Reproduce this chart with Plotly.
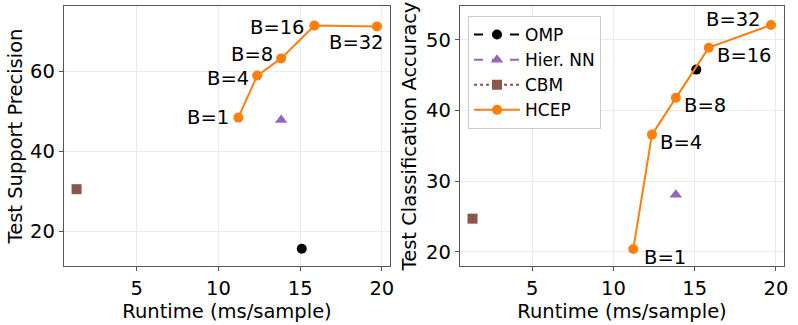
import plotly.graph_objects as go
from plotly.subplots import make_subplots

# runtime (ms/sample) of each HCEP budget
BUDGETS = ['B=1', 'B=4', 'B=8', 'B=16', 'B=32']
hcep_runtime = [11.22, 12.37, 13.84, 15.87, 19.7]
hcep_precision = [48.5, 59.0, 63.3, 71.5, 71.3]
hcep_accuracy = [20.4, 36.6, 41.8, 48.9, 52.1]

omp_runtime = [15.1]
omp_precision = [15.7]
omp_accuracy = [45.8]

hnn_runtime = [13.84]
hnn_precision = [47.9]
hnn_accuracy = [28.1]

cbm_runtime = [1.32]
cbm_precision = [30.6]
cbm_accuracy = [24.7]

FONT = 'DejaVu Sans'
FS = 19.5
W, H = 798, 325
L, R, T, B = 64, 14, 6, 59
PW, PH = W - L - R, H - T - B

def UpdateLayout(fig) :

    axstyle = dict(showline=True, linecolor='#555555', linewidth=1.3, mirror=True,
                   gridcolor='#ebebeb', gridwidth=1, zeroline=False, automargin=False,
                   ticks='outside', ticklen=4, tickcolor='#555555',
                   tickfont=dict(family=FONT, size=FS, color='black'))
    fig.update_xaxes(**axstyle)
    fig.update_yaxes(**axstyle)
    fig.update_xaxes(title_text='Runtime (ms/sample)', title_font=dict(family=FONT, size=FS, color='black'),
                     title_standoff=3, tickvals=[5, 10, 15, 20], range=[0.55, 20.5])
    fig.update_yaxes(title_text='Test Support Precision', title_font=dict(family=FONT, size=FS, color='black'),
                     title_standoff=2, tickvals=[20, 40, 60], range=[11.4, 76.4], row=1, col=1)
    fig.update_yaxes(title_text='Test Classification Accuracy', title_font=dict(family=FONT, size=FS, color='black'),
                     title_standoff=4, tickvals=[20, 30, 40, 50], range=[18.0, 54.8], row=1, col=2)

    fig.update_layout(xaxis=dict(domain=[0, (390-L)/PW]), xaxis2=dict(domain=[(460-L)/PW, 1]),
                      yaxis=dict(domain=[0, 1]), yaxis2=dict(domain=[0, 1]))
    fig.update_layout(width=W, height=H, margin=dict(l=L, r=R, t=T, b=B, autoexpand=False),
                      paper_bgcolor='White', plot_bgcolor='White', font=dict(family=FONT, color='black'))
    fig.update_layout(legend=dict(x=(468-L)/PW, y=1-(16-T)/PH, xanchor='left', yanchor='top',
                                  bgcolor='rgba(255,255,255,0.85)', bordercolor='#cccccc', borderwidth=1,
                                  font=dict(family=FONT, size=17, color='black'),
                                  tracegroupgap=0, itemwidth=46))
    return

fig = make_subplots(rows=1, cols=2)

for col, (omp_y, hnn_y, cbm_y, hcep_y) in enumerate([
        (omp_precision, hnn_precision, cbm_precision, hcep_precision),
        (omp_accuracy, hnn_accuracy, cbm_accuracy, hcep_accuracy)], start=1) :
    show = (col == 2)
    fig.add_trace(go.Scatter(x=omp_runtime, y=omp_y, name='OMP', mode='lines+markers',
                             line=dict(color='black', dash='dash', width=2),
                             marker=dict(symbol='circle', size=10, color='black'),
                             showlegend=show, legendgroup='omp'), row=1, col=col)
    fig.add_trace(go.Scatter(x=hnn_runtime, y=hnn_y, name='Hier. NN', mode='lines+markers',
                             line=dict(color='#9467bd', dash='dash', width=2),
                             marker=dict(symbol='triangle-up', size=11, color='#9467bd'),
                             showlegend=show, legendgroup='hnn'), row=1, col=col)
    fig.add_trace(go.Scatter(x=cbm_runtime, y=cbm_y, name='CBM', mode='lines+markers',
                             line=dict(color='#8c564b', dash='dot', width=2),
                             marker=dict(symbol='square', size=10, color='#8c564b'),
                             showlegend=show, legendgroup='cbm'), row=1, col=col)
    fig.add_trace(go.Scatter(x=hcep_runtime, y=hcep_y, name='HCEP', mode='lines+markers',
                             line=dict(color='#ff7f0e', width=2),
                             marker=dict(symbol='circle', size=10, color='#ff7f0e'),
                             showlegend=show, legendgroup='hcep'), row=1, col=col)

# label offsets (xanchor, xshift, yshift) for each budget, per panel
left_pos = [('right', -7, 0), ('right', -6, -3), ('right', -6, 4), ('right', -7, -2), ('right', 9, -16)]
right_pos = [('left', 9, -8), ('left', 6, -8), ('left', 6, -8), ('left', 6, -8), ('right', -8, 6)]

for i, b in enumerate(BUDGETS) :
    xa, xs, ys = left_pos[i]
    fig.add_annotation(x=hcep_runtime[i], y=hcep_precision[i], xref='x', yref='y', text=b,
                       showarrow=False, xanchor=xa, yanchor='middle', xshift=xs, yshift=ys,
                       font=dict(family=FONT, size=FS, color='black'))
    xa, xs, ys = right_pos[i]
    fig.add_annotation(x=hcep_runtime[i], y=hcep_accuracy[i], xref='x2', yref='y2', text=b,
                       showarrow=False, xanchor=xa, yanchor='middle', xshift=xs, yshift=ys,
                       font=dict(family=FONT, size=FS, color='black'))

UpdateLayout(fig)

# the page body has a default 8px margin, drop it so the figure fills the window
fig.write_html("out.html", config={'displayModeBar': False},
               post_script="document.body.style.margin='0px';")
